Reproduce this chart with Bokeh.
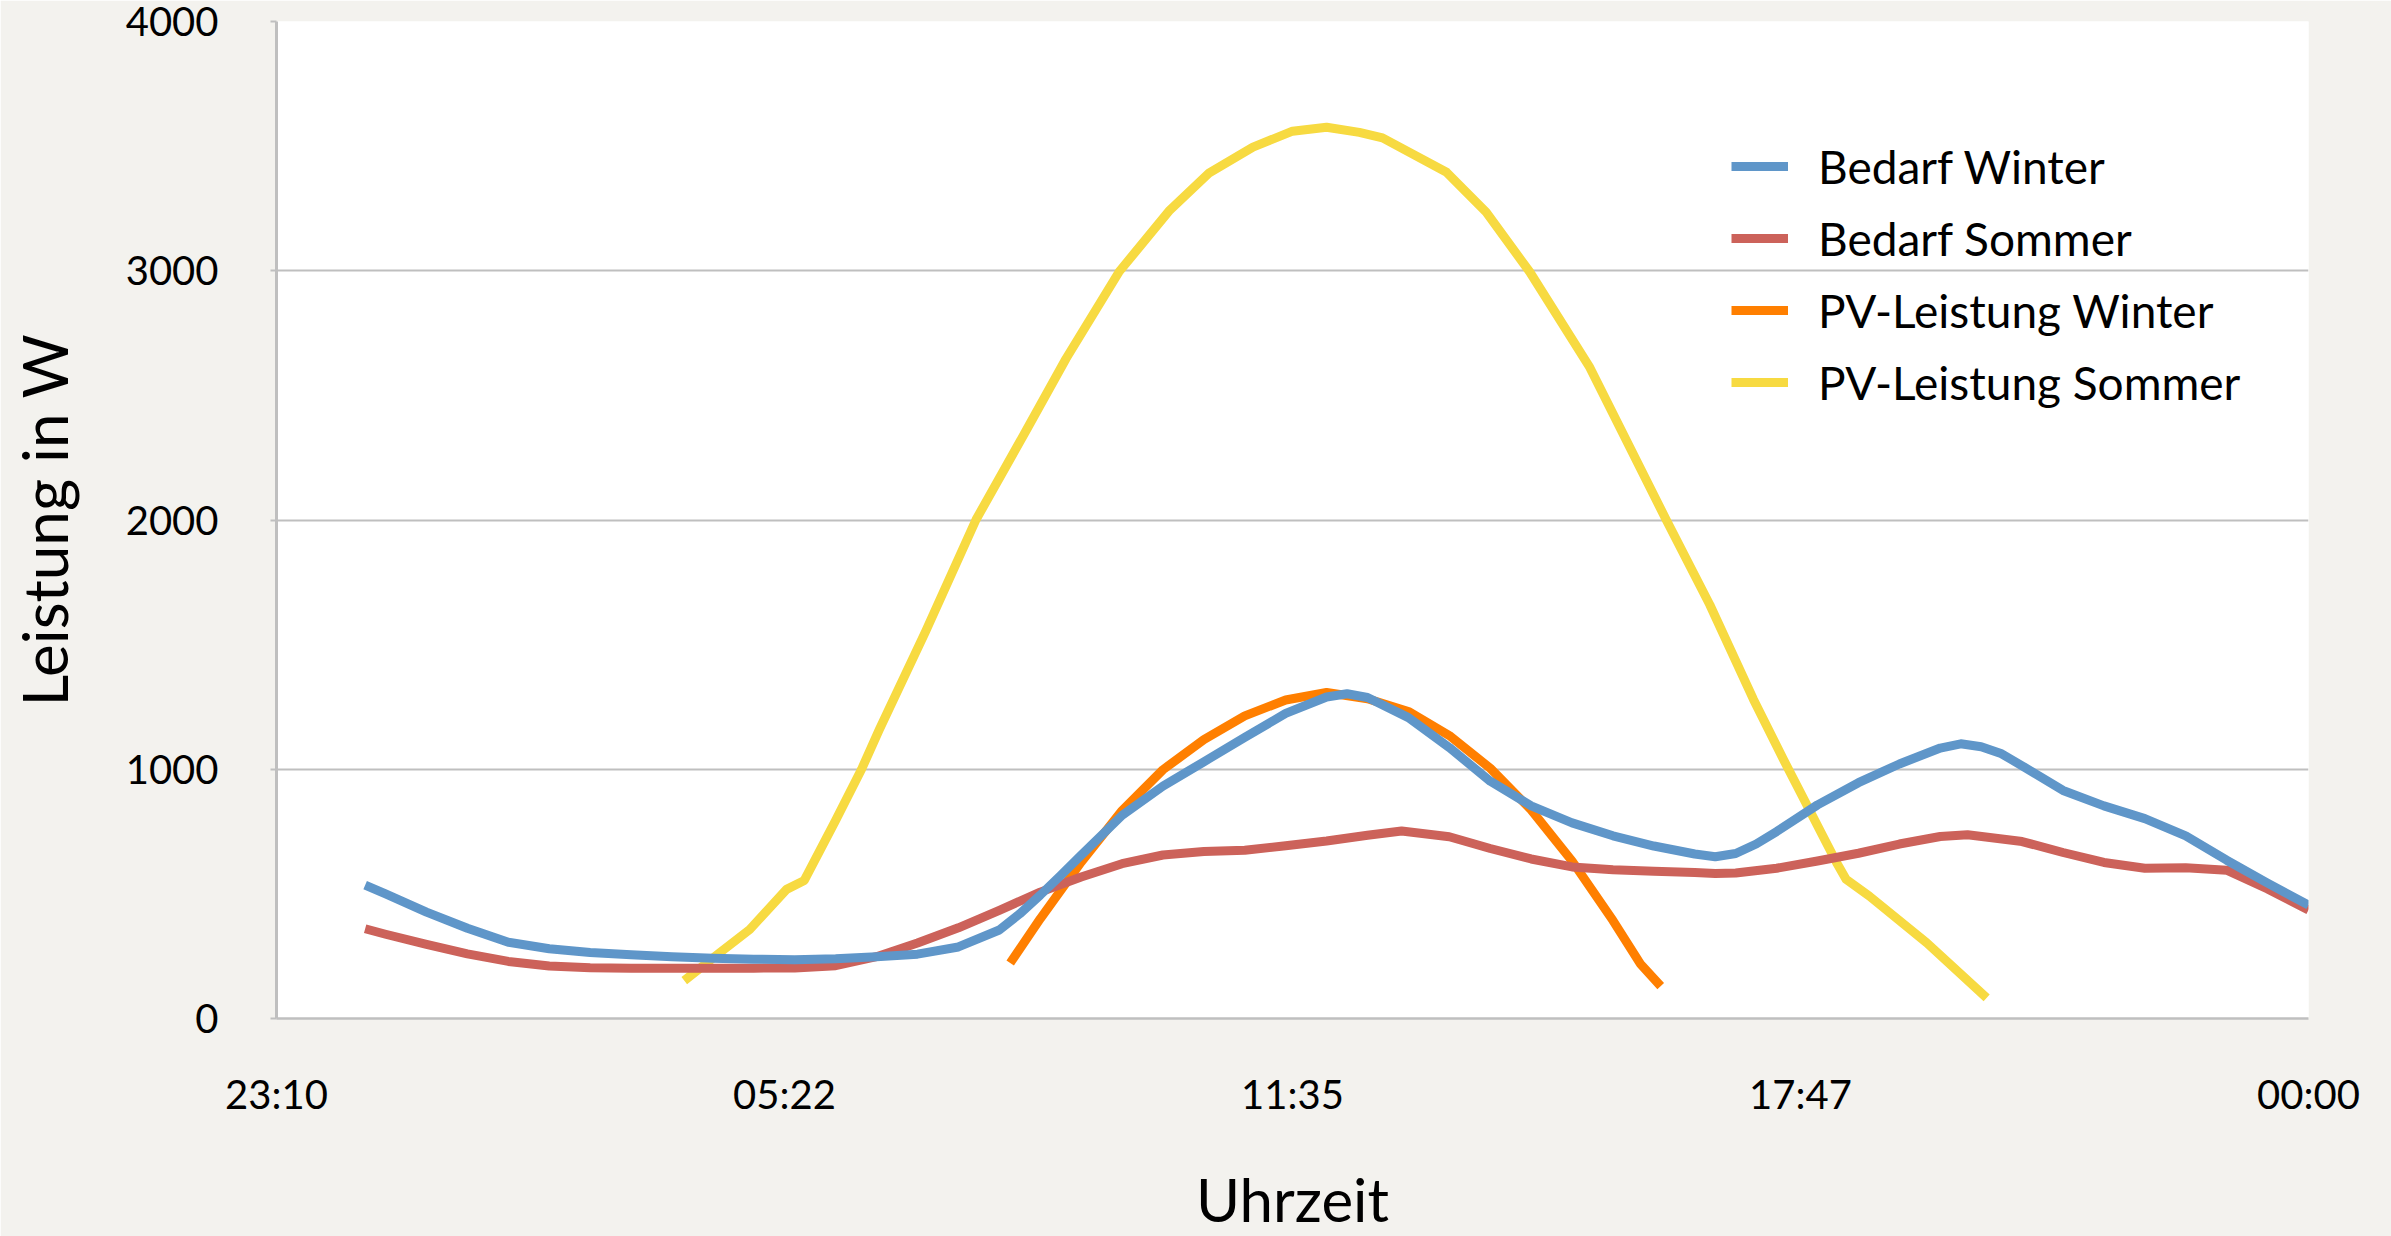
import numpy as np
from bokeh.plotting import figure
from bokeh.models import Range1d, FixedTicker, Legend, LegendItem
from bokeh.embed import file_html
from bokeh.resources import INLINE

# ---------------- data ----------------
x_tick_labels = ["23:10", "05:22", "11:35", "17:47", "00:00"]
y_ticks = [0, 1000, 2000, 3000, 4000]

bedarf_winter_t = ["00:15", "00:30", "01:00", "01:30", "02:00", "02:30", "03:00", "03:30",
                   "04:00", "04:30", "05:00", "05:30", "06:00", "06:30", "07:00", "07:30",
                   "08:00", "08:15", "08:30", "08:45", "09:00", "09:30", "10:00", "10:30",
                   "11:00", "11:30", "12:00", "12:15", "12:30", "13:00", "13:30", "14:00",
                   "14:30", "15:00", "15:30", "16:00", "16:30", "16:45", "17:00", "17:15",
                   "17:30", "18:00", "18:30", "19:00", "19:30", "19:45", "20:00", "20:15",
                   "20:30", "21:00", "21:30", "22:00", "22:30", "23:00", "23:30", "24:00"]
bedarf_winter_w = [535, 500, 427, 362, 306, 280, 265, 256,
                   248, 242, 238, 236, 240, 248, 258, 287,
                   355, 420, 495, 574, 655, 815, 932, 1030,
                   1128, 1224, 1290, 1303, 1288, 1207, 1087, 952,
                   853, 785, 733, 692, 660, 649, 662, 700,
                   750, 857, 946, 1021, 1085, 1102, 1090, 1062,
                   1014, 915, 853, 802, 733, 635, 543, 455]

bedarf_sommer_t = ["00:15", "00:30", "01:00", "01:30", "02:00", "02:30", "03:00", "03:30",
                   "04:00", "05:00", "05:30", "06:00", "06:30", "07:00", "07:30", "08:00",
                   "08:30", "09:00", "09:30", "10:00", "10:30", "11:00", "11:30", "12:00",
                   "12:30", "12:55", "13:30", "14:00", "14:30", "15:00", "15:30", "16:00",
                   "16:30", "16:45", "17:00", "17:30", "18:00", "18:30", "19:00", "19:30",
                   "19:50", "20:30", "21:00", "21:30", "22:00", "22:30", "23:00", "23:30",
                   "24:00"]
bedarf_sommer_w = [360, 338, 297, 259, 229, 211, 204, 202,
                   202, 202, 203, 212, 248, 303, 364, 434,
                   507, 568, 621, 656, 670, 675, 693, 712,
                   735, 752, 729, 682, 640, 608, 597, 591,
                   586, 582, 584, 603, 632, 663, 700, 730,
                   737, 710, 666, 626, 603, 605, 595, 520,
                   435]

pv_winter_t = ["08:08", "08:30", "09:00", "09:30", "10:00", "10:30", "11:00", "11:30",
               "12:00", "12:30", "13:00", "13:30", "14:00", "14:30", "15:00", "15:30",
               "15:50", "16:05"]
pv_winter_w = [223, 400, 627, 834, 998, 1119, 1214, 1278,
               1308, 1283, 1232, 1135, 1004, 837, 632, 393,
               220, 130]

pv_sommer_t = ["04:09", "04:35", "04:57", "05:24", "05:37", "06:00", "06:19", "06:32",
               "07:06", "07:43", "08:20", "08:49", "09:28", "10:05", "10:34", "11:06",
               "11:35", "12:00", "12:24", "12:41", "13:28", "13:57", "14:29", "15:13",
               "16:09", "16:41", "17:13", "17:35", "18:14", "18:21", "18:38", "19:20",
               "20:04"]
pv_sommer_w = [152, 264, 357, 518, 554, 795, 1000, 1159,
               1553, 2002, 2362, 2648, 2997, 3243, 3393, 3496,
               3560, 3576, 3555, 3533, 3395, 3235, 2995, 2612,
               2001, 1660, 1280, 1039, 625, 558, 491, 304,
               83]

series_names = ["Bedarf Winter", "Bedarf Sommer", "PV-Leistung Winter", "PV-Leistung Sommer"]
series_colors = ["#5F96C9", "#CC625A", "#FF7F00", "#F7DA41"]

# ---------------- helpers ----------------
def to_min(s):
    h, m = s.split(":")
    return int(h) * 60 + int(m)

FONT = "Lato"
BG = "#F3F2EE"
GRID = "#BFBFBF"

x_start = to_min(x_tick_labels[0]) - 1440  # previous day
x_end = 1440
x_ticks = list(np.linspace(x_start, x_end, len(x_tick_labels)))

p = figure(frame_width=2032, frame_height=997,
           x_range=Range1d(x_start, x_end), y_range=Range1d(0, 4000),
           output_backend="svg", toolbar_location=None,
           min_border_left=276, min_border_right=83,
           min_border_top=21, min_border_bottom=218)

p.background_fill_color = "white"
p.border_fill_color = BG
p.outline_line_color = None

# axes
p.xaxis.ticker = FixedTicker(ticks=x_ticks)
p.xaxis.major_label_overrides = {float(t): lab for t, lab in zip(x_ticks, x_tick_labels)}
p.yaxis.ticker = FixedTicker(ticks=y_ticks)

for ax in (p.xaxis, p.yaxis):
    ax.axis_line_color = GRID
    ax.major_label_text_font = FONT
    ax.major_label_text_font_size = "40px"
    ax.major_label_text_color = "black"
    ax.axis_label_text_font = FONT
    ax.axis_label_text_font_style = "normal"
    ax.axis_label_text_color = "black"
    ax.minor_tick_line_color = None

p.xaxis.axis_line_width = 2.5
p.xaxis.major_tick_line_color = None
p.xaxis.major_tick_out = 0
p.xaxis.major_tick_in = 0
p.xaxis.major_label_standoff = 51
p.xaxis.axis_label = "Uhrzeit"
p.xaxis.axis_label_text_font_size = "60px"
p.xaxis.axis_label_standoff = 42

p.yaxis.axis_line_width = 3
p.yaxis.major_tick_line_color = GRID
p.yaxis.major_tick_line_width = 2
p.yaxis.major_tick_out = 6
p.yaxis.major_tick_in = 0
p.yaxis.major_label_standoff = 52
p.yaxis.axis_label = "Leistung in W"
p.yaxis.axis_label_text_font_size = "62px"
p.yaxis.axis_label_standoff = 42

p.xgrid.grid_line_color = None
p.ygrid.grid_line_color = GRID
p.ygrid.grid_line_width = 2

# lines (drawn bottom to top: PV Sommer, PV Winter, Bedarf Sommer, Bedarf Winter)
data = [
    (bedarf_winter_t, bedarf_winter_w),
    (bedarf_sommer_t, bedarf_sommer_w),
    (pv_winter_t, pv_winter_w),
    (pv_sommer_t, pv_sommer_w),
]
renderers = [None] * 4
for i in [3, 2, 1, 0]:
    t, w = data[i]
    renderers[i] = p.line([to_min(s) for s in t], w, line_color=series_colors[i],
                          line_width=9, line_join="round")

legend = Legend(items=[LegendItem(label=series_names[i], renderers=[renderers[i]]) for i in range(4)],
                location=(1455, 600))
legend.label_text_font = FONT
legend.label_text_font_size = "46px"
legend.label_text_color = "black"
legend.glyph_width = 57
legend.glyph_height = 72
legend.label_height = 72
legend.label_standoff = 30
legend.spacing = 0
legend.padding = 0
legend.margin = 0
legend.background_fill_alpha = 0
legend.border_line_alpha = 0
p.add_layout(legend)

open("out.html", "w").write(file_html(p, INLINE))
